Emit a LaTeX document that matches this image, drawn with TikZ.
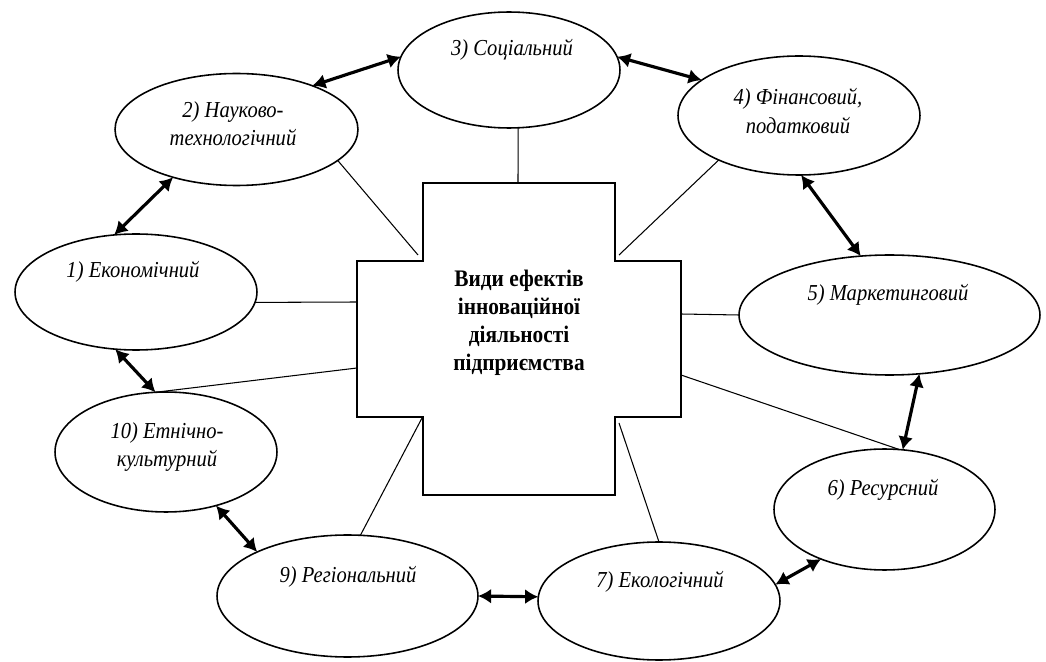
\documentclass[tikz,border=0pt]{standalone}
\usepackage{fontspec}
\setmainfont[FakeStretch=0.9]{Liberation Serif}
\usepackage{tikz}
\usetikzlibrary{shapes,arrows,arrows.meta}

\begin{document}
\begin{tikzpicture}[x=0.02cm,y=-0.02cm,
  effect/.style={ellipse,draw,line width=0.9pt,inner sep=0pt,outer sep=0pt},
  lbl/.style={font=\fontsize{13}{16}\selectfont\itshape,align=center,inner sep=0pt},
  link/.style={line width=0.6pt},
  both/.style={line width=1.8pt,{Latex[length=7.5pt,width=8.5pt]}-{Latex[length=7.5pt,width=8.5pt]}}]
  \useasboundingbox (0,0) rectangle (1046,662);
  % central cross
  \draw[line width=0.8pt] (423,183) -- (615,183) -- (615,261) -- (681,261) -- (681,417)
    -- (615,417) -- (615,495) -- (423,495) -- (423,417) -- (357,417) -- (357,261)
    -- (423,261) -- cycle;
  \node[font=\fontsize{13.5}{16}\selectfont\bfseries,align=center,inner sep=0pt] (hub) at (519,323)
    {Види ефектів\\інноваційної\\діяльності\\підприємства};
  \coordinate (hubN) at (518,183);
  \coordinate (hubNW) at (418,255);
  \coordinate (hubNE) at (619,255);
  \coordinate (hubW) at (357,302);
  \coordinate (hubWS) at (357,368);
  \coordinate (hubE) at (681,314);
  \coordinate (hubES) at (681,375);
  \coordinate (hubSW) at (422,418);
  \coordinate (hubSE) at (619,423);
  % effects
  \node[effect,minimum width=4.84cm,minimum height=2.32cm] (e1) at (136,292) {};
  \node[effect,minimum width=4.86cm,minimum height=2.24cm] (e2) at (236.5,129.5) {};
  \node[effect,minimum width=4.44cm,minimum height=2.32cm] (e3) at (509,70) {};
  \node[effect,minimum width=4.84cm,minimum height=2.38cm] (e4) at (799,115.5) {};
  \node[effect,minimum width=6.02cm,minimum height=2.40cm] (e5) at (889.5,315) {};
  \node[effect,minimum width=4.42cm,minimum height=2.42cm] (e6) at (884.5,509.5) {};
  \node[effect,minimum width=4.84cm,minimum height=2.36cm] (e7) at (659,601) {};
  \node[effect,minimum width=5.22cm,minimum height=2.44cm] (e9) at (347.5,596) {};
  \node[effect,minimum width=4.44cm,minimum height=2.40cm] (e10) at (166,452) {};
  \node[lbl] (t1) at (133,272) {1) Економічний};
  \node[lbl] (t2) at (233,124) {2) Науково-\\технологічний};
  \node[lbl] (t3) at (512,50) {3) Соціальний};
  \node[lbl] (t4) at (798,111) {4) Фінансовий,\\податковий};
  \node[lbl] (t5) at (888,295) {5) Маркетинговий};
  \node[lbl] (t6) at (883,490) {6) Ресурсний};
  \node[lbl] (t7) at (660,582) {7) Екологічний};
  \node[lbl] (t9) at (348,577) {9) Регіональний};
  \node[lbl] (t10) at (167,447) {10) Етнічно-\\культурний};
  % links to the cross
  \draw[link] (e1.-5) -- (hubW);
  \draw[link] (e10.100) -- (hubWS);
  \draw[link] (e9.78) -- (hubSW);
  \draw[link] (e7.90) -- (hubSE);
  \draw[link] (e6.76) -- (hubES);
  \draw[link] (e5.180) -- (hubE);
  \draw[link] (e4.-151) -- (hubNE);
  \draw[link] (e2.-17) -- (hubNW);
  \draw[link] (e3.-81) -- (hubN);
  % neighbours
  \draw[both] (e1.111) -- (e2.-143);
  \draw[both] (e2.30) -- (e3.173);
  \draw[both] (e3.7) -- (e4.160);
  \draw[both] (e4.-88) -- (e5.116);
  \draw[both] (e5.-63) -- (e6.73);
  \draw[both] (e6.-142) -- (e7.8);
  \draw[both] (e7.178) -- (e9.0);
  \draw[both] (e9.154) -- (e10.-47);
  \draw[both] (e10.100) -- (e1.-110);
\end{tikzpicture}
\end{document}
